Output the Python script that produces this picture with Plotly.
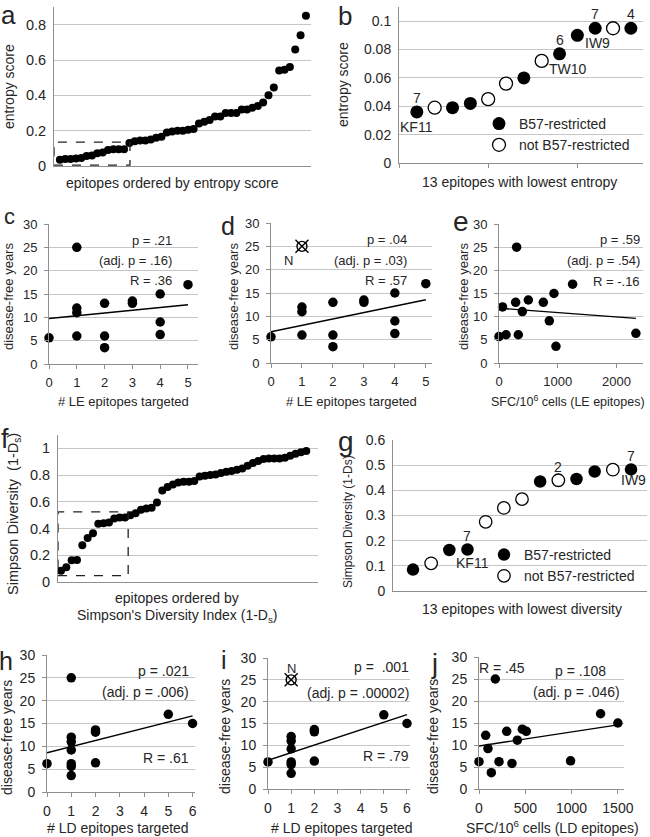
import numpy as np
import plotly.graph_objects as go

W, H = 650, 837
FONT = "Liberation Sans, Arial, sans-serif"
TXT = "#262626"
GRID = "#c6c6c6"
AXIS = "#8f8f8f"

# ---------------- data ----------------
# (a) entropy score of all epitopes, ordered
entropy_scores = [0.036, 0.039, 0.039, 0.042, 0.045, 0.056, 0.060, 0.072, 0.077, 0.090, 0.095, 0.095, 0.095,
                  0.13, 0.14, 0.145, 0.145, 0.15, 0.16, 0.165, 0.19, 0.195, 0.2, 0.2, 0.205, 0.21,
                  0.24, 0.25, 0.26, 0.28, 0.28, 0.3, 0.3, 0.3, 0.32, 0.32, 0.33, 0.34, 0.36,
                  0.4, 0.445, 0.54, 0.545, 0.56, 0.66, 0.74, 0.85]
# (b) 13 lowest-entropy epitopes: B57-restricted flags and labels
n_low = 13
entropy_b57 = [1, 0, 1, 1, 0, 0, 1, 0, 1, 1, 1, 0, 1]
entropy_count_labels = {1: "7", 9: "6", 11: "7", 13: "4"}
entropy_name_labels = {1: "KF11", 9: "TW10", 11: "IW9"}

# (f) Simpson diversity of all epitopes, ordered
diversity_scores = [0.085, 0.11, 0.163, 0.165, 0.275, 0.33, 0.365, 0.435, 0.44, 0.445, 0.475, 0.482, 0.483,
                    0.50, 0.515, 0.54, 0.55, 0.555, 0.595,
                    0.685, 0.71, 0.73, 0.745, 0.75, 0.75, 0.755, 0.79, 0.795, 0.8, 0.805, 0.815,
                    0.825, 0.83, 0.84, 0.85, 0.87, 0.89, 0.905, 0.92, 0.925, 0.925, 0.925, 0.93,
                    0.945, 0.96, 0.97, 0.98]
diversity_b57 = [1, 0, 1, 1, 0, 0, 0, 1, 0, 1, 1, 0, 1]
diversity_count_labels = {4: "7", 9: "2", 13: "7"}
diversity_name_labels = {4: "KF11", 13: "IW9"}

# (c,d) LE epitopes targeted vs disease-free years; outlier N excluded in (d)
le_targeted = [0, 1, 1, 1, 1, 2, 2, 2, 3, 3, 4, 4, 4, 5]
le_dfy = [5.6, 25, 12, 11, 6, 13, 6, 3.5, 13.5, 13, 15, 9, 6.3, 17]
le_outlier = 1  # index of subject "N"

# (e) SFC/10^6 cells (LE epitopes)
le_sfc = [0, 60, 120, 283, 300, 329, 397, 499, 754, 856, 935, 969, 1252, 2329]
le_sfc_dfy = [5.7, 12.1, 6.1, 13.1, 25, 6.1, 11.1, 13.6, 13.1, 9.1, 15, 3.6, 17, 6.4]

# (h,i) LD epitopes targeted vs disease-free years
ld_targeted = [0, 1, 1, 1, 1, 1, 1, 1, 2, 2, 2, 5, 6]
ld_dfy = [6.2, 25, 12, 11, 9.2, 6.2, 5.6, 3.6, 13.6, 13.1, 6.4, 17, 15]
ld_outlier = 1

# (j) SFC/10^6 cells (LD epitopes)
ld_sfc = [0, 72, 97, 133, 176, 216, 299, 356, 414, 468, 511, 989, 1313, 1500]
ld_sfc_dfy = [6.2, 12.2, 9.2, 3.7, 25, 6.2, 13.1, 5.8, 11.1, 13.6, 13.1, 6.4, 17.1, 15]

# statistics text
stats_c = ["p = .21", "(adj. p = .16)", "R = .36"]
stats_d = ["p = .04", "(adj. p = .03)", "R = .57"]
stats_e = ["p = .59", "(adj. p = .54)", "R = -.16"]
stats_h = ["p = .021", "(adj. p = .006)", "R = .61"]
stats_i = ["p =  .001", "(adj. p = .00002)", "R = .79"]
stats_j = ["R = .45", "p = .108", "(adj. p = .046)"]

# ---------------- layout helpers ----------------
def ax_id(n, a):
    return a if n == 1 else f"{a}{n}"

layout = dict(width=W, height=H, margin=dict(l=0, r=0, t=0, b=0, pad=0, autoexpand=False),
              paper_bgcolor="white", plot_bgcolor="white", template="none",
              font=dict(family=FONT, color=TXT), showlegend=True)
annotations = []
shapes = []
fig = go.Figure()


def add_axes(n, rect, xr, yr, dy, fs, dx=None, xlabels=False, xtickvals=None,
             yticks=False, ystand=4, xstand=2):
    l, r, t, b = rect
    xa = dict(domain=[l / W, r / W], range=xr, anchor=ax_id(n, "y"), showgrid=False,
              zeroline=False, showline=True, linecolor=AXIS, linewidth=1, automargin=False,
              tickfont=dict(size=fs, color=TXT, family=FONT), fixedrange=True,
              showticklabels=xlabels, ticks="", ticklabelstandoff=xstand)
    if dx is not None:
        xa.update(tickmode="linear", tick0=0, dtick=dx, ticks="outside", ticklen=4,
                  tickcolor=AXIS, tickwidth=1)
    if xtickvals is not None:
        xa.update(tickmode="array", tickvals=xtickvals, ticks="outside", ticklen=4,
                  tickcolor=AXIS, tickwidth=1)
    ya = dict(domain=[1 - b / H, 1 - t / H], range=yr, anchor=ax_id(n, "x"), showgrid=True,
              gridcolor=GRID, gridwidth=1, zeroline=False, showline=True, linecolor=AXIS,
              linewidth=1, tickmode="linear", tick0=0, dtick=dy, automargin=False,
              tickfont=dict(size=fs, color=TXT, family=FONT), fixedrange=True,
              ticks="outside" if yticks else "", ticklen=4, tickcolor=AXIS,
              ticklabelstandoff=ystand)
    layout["xaxis" if n == 1 else f"xaxis{n}"] = xa
    layout["yaxis" if n == 1 else f"yaxis{n}"] = ya


def dots(n, x, y, size, filled=True, name=None, legend=None, show=False):
    fig.add_trace(go.Scatter(
        x=x, y=y, mode="markers", xaxis=ax_id(n, "x"), yaxis=ax_id(n, "y"),
        cliponaxis=False, name=name, showlegend=show, legend=legend,
        marker=dict(size=size, color="black" if filled else "white",
                    line=dict(color="black", width=0 if filled else 1.3))))


def fit_line(n, x, y):
    x = np.asarray(x, float)
    y = np.asarray(y, float)
    k, c = np.polyfit(x, y, 1)
    xs = np.array([x.min(), x.max()])
    fig.add_trace(go.Scatter(x=xs, y=k * xs + c, mode="lines", xaxis=ax_id(n, "x"),
                             yaxis=ax_id(n, "y"), showlegend=False, cliponaxis=False,
                             line=dict(color="black", width=1.4)))


def text(s, x, y, size, angle=0, xanchor="center"):
    annotations.append(dict(text=s, x=x / W, y=1 - y / H, xref="paper", yref="paper",
                            showarrow=False, textangle=angle, xanchor=xanchor,
                            yanchor="middle", font=dict(size=size, color=TXT, family=FONT)))


def data_text(n, s, x, y, size, dx=0, dy=0):
    annotations.append(dict(text=s, x=x, y=y, xref=ax_id(n, "x"), yref=ax_id(n, "y"),
                            showarrow=False, xshift=dx, yshift=dy,
                            font=dict(size=size, color=TXT, family=FONT)))


def crossed(n, x, y):
    fig.add_trace(go.Scatter(x=[x], y=[y], mode="markers", xaxis=ax_id(n, "x"),
                             yaxis=ax_id(n, "y"), showlegend=False, cliponaxis=False,
                             marker=dict(symbol="circle-open", size=10, color="black",
                                         line=dict(color="black", width=1.4))))
    fig.add_trace(go.Scatter(x=[x], y=[y], mode="markers", xaxis=ax_id(n, "x"),
                             yaxis=ax_id(n, "y"), showlegend=False, cliponaxis=False,
                             marker=dict(symbol="x-thin-open", size=13, color="black",
                                         line=dict(color="black", width=1.4))))


# ---------------- (a) ----------------
add_axes(1, (54, 311, 7, 166), [-1.1, 46.95], [0, 0.9], 0.2, 14.5)
dots(1, list(range(len(entropy_scores))), entropy_scores, 8)
low = entropy_scores[:n_low]
shapes.append(dict(type="rect", xref="x", yref="y", x0=-1.1, x1=n_low + 0.1,
                   y0=min(low) - 0.031, y1=max(low) + 0.04,
                   line=dict(color="#222", width=1.3, dash="dash")))
text("entropy score", 9, 87, 14, -90)
text("epitopes ordered by entropy score", 173, 183, 14)
text("a", 8, 15, 26)

# ---------------- (b) ----------------
add_axes(2, (399, 643, 7, 163), [0, 13.68], [0, 0.11], 0.02, 14, xtickvals=[0, 5, 10])
xi = list(range(1, n_low + 1))
dots(2, [x for x, f in zip(xi, entropy_b57) if f], [v for v, f in zip(low, entropy_b57) if f],
     13, True, "B57-restricted", "legend", True)
dots(2, [x for x, f in zip(xi, entropy_b57) if not f], [v for v, f in zip(low, entropy_b57) if not f],
     13, False, "not B57-restricted", "legend", True)
for k, s in entropy_count_labels.items():
    data_text(2, s, k, low[k - 1], 14, 0, 14)
for k, s in entropy_name_labels.items():
    data_text(2, s, k, low[k - 1], 14, 8 if s == "TW10" else (2 if s == "IW9" else 0), -15)
text("entropy score", 343, 85, 14, -90)
text("13 epitopes with lowest entropy", 519, 182, 14)
text("b", 345, 16, 26)

# ---------------- (c) ----------------
add_axes(3, (49, 198, 224, 364), [0, 5.36], [0, 30], 5, 13, dx=1, xlabels=True, yticks=True)
dots(3, le_targeted, le_dfy, 9.5)
fit_line(3, le_targeted, le_dfy)
for s, y in zip(stats_c, [240, 260, 280]):
    text(s, 174, y, 13, xanchor="right")
text("disease-free years", 8, 297, 13, -90)
text("# LE epitopes targeted", 123, 401, 13)
text("c", 9, 216, 22)

# ---------------- (d) ----------------
add_axes(4, (271, 432, 223, 363), [0, 5.2], [0, 30], 5, 13, dx=1, xlabels=True, yticks=True)
keep = [i for i in range(len(le_dfy)) if i != le_outlier]
dots(4, [le_targeted[i] for i in keep], [le_dfy[i] for i in keep], 9.5)
fit_line(4, [le_targeted[i] for i in keep], [le_dfy[i] for i in keep])
crossed(4, le_targeted[le_outlier], le_dfy[le_outlier])
data_text(4, "N", le_targeted[le_outlier], le_dfy[le_outlier], 13, -13, -14)
for s, y in zip(stats_d, [239, 260, 280]):
    text(s, 409, y, 13, xanchor="right")
text("disease-free years", 233, 297, 13, -90)
text("# LE epitopes targeted", 351, 401, 13)
text("d", 228, 226, 25)

# ---------------- (e) ----------------
add_axes(5, (499, 643, 224, 363), [0, 2450], [0, 30], 5, 13, dx=1000, xlabels=True, yticks=True)
dots(5, le_sfc, le_sfc_dfy, 9.5)
fit_line(5, le_sfc, le_sfc_dfy)
for s, y in zip(stats_e, [239, 261, 281]):
    text(s, 642, y, 13, xanchor="right")
text("disease-free years", 463, 297, 13, -90)
text("SFC/10<sup>6</sup> cells (LE epitopes)", 568, 401, 12.5)
text("e", 461, 221, 28)

# ---------------- (f) ----------------
add_axes(6, (58, 318, 435, 582), [-0.56, 48.2], [0, 1.1], 0.2, 14.5)
dots(6, list(range(len(diversity_scores))), diversity_scores, 8)
lowd = diversity_scores[:n_low]
shapes.append(dict(type="rect", xref="x6", yref="y6", x0=-0.56, x1=n_low - 0.4,
                   y0=min(lowd) - 0.038, y1=max(lowd) + 0.042,
                   line=dict(color="#222", width=1.3, dash="dash")))
text("Simpson Diversity  (1-D<sub>s</sub>)", 14, 514, 14.5, -90)
text("epitopes ordered by", 177, 598, 14)
text("Simpson's Diversity Index (1-D<sub>s</sub>)", 177, 616, 14)
text("f", 5, 439, 27)

# ---------------- (g) ----------------
add_axes(7, (393, 647, 440, 591), [-0.1, 13.88], [0, 0.6], 0.1, 14)
dots(7, [x for x, f in zip(xi, diversity_b57) if f], [v for v, f in zip(lowd, diversity_b57) if f],
     12.5, True, "B57-restricted", "legend2", True)
dots(7, [x for x, f in zip(xi, diversity_b57) if not f], [v for v, f in zip(lowd, diversity_b57) if not f],
     12.5, False, "not B57-restricted", "legend2", True)
for k, s in diversity_count_labels.items():
    data_text(7, s, k, lowd[k - 1], 14, 0, 13)
for k, s in diversity_name_labels.items():
    data_text(7, s, k, lowd[k - 1], 14, 5 if s == "KF11" else 2, -14 if s == "KF11" else -11)
text("Simpson Diversity (1-Ds)", 348, 522, 12, -90)
text("13 epitopes with lowest diversity", 522, 609, 14)
text("g", 346, 441, 28)

# ---------------- (h) ----------------
add_axes(8, (47, 195, 655, 792), [0, 6.1], [0, 30], 5, 14, dx=1, xlabels=True, yticks=True)
dots(8, ld_targeted, ld_dfy, 9.5)
fit_line(8, ld_targeted, ld_dfy)
for s, y in zip(stats_h, [671, 692, 758]):
    text(s, 191, y, 14, xanchor="right")
text("disease-free years", 7, 738, 14, -90)
text("# LD epitopes targeted", 118, 828, 14)
text("h", 6, 661, 25)

# ---------------- (i) ----------------
add_axes(9, (268, 410, 658, 789), [0, 6.13], [0, 30], 5, 14, dx=1, xlabels=True, yticks=True)
keep = [i for i in range(len(ld_dfy)) if i != ld_outlier]
dots(9, [ld_targeted[i] for i in keep], [ld_dfy[i] for i in keep], 9.5)
fit_line(9, [ld_targeted[i] for i in keep], [ld_dfy[i] for i in keep])
crossed(9, ld_targeted[ld_outlier], ld_dfy[ld_outlier])
data_text(9, "N", ld_targeted[ld_outlier], ld_dfy[ld_outlier], 13, 0, 11)
for s, y in zip(stats_i, [667, 693, 756]):
    text(s, 411, y, 14, xanchor="right")
text("disease-free years", 225, 737, 14, -90)
text("# LD epitopes targeted", 342, 828, 14)
text("i", 224, 660, 25)

# ---------------- (j) ----------------
add_axes(10, (479, 624, 657, 789), [0, 1566], [0, 30], 5, 14, dx=500, xlabels=True, yticks=True)
dots(10, ld_sfc, ld_sfc_dfy, 9.5)
fit_line(10, ld_sfc, ld_sfc_dfy)
text(stats_j[0], 502, 668, 14)
text(stats_j[1], 608, 671, 14, xanchor="right")
text(stats_j[2], 622, 692, 14, xanchor="right")
text("disease-free years", 433, 737, 14, -90)
text("SFC/10<sup>6</sup> cells (LD epitopes)", 552, 827, 14)
text("j", 434, 664, 27)

layout["annotations"] = annotations
layout["shapes"] = shapes
layout["legend"] = dict(x=479 / W, y=1 - 108 / H, xanchor="left", yanchor="top",
                        bgcolor="rgba(0,0,0,0)", font=dict(size=14, color=TXT, family=FONT))
layout["legend2"] = dict(x=484 / W, y=1 - 539 / H, xanchor="left", yanchor="top",
                         bgcolor="rgba(0,0,0,0)", font=dict(size=14, color=TXT, family=FONT))
fig.update_layout(**layout)
fig.write_html("out.html", config={"displayModeBar": False},
               post_script="document.body.style.margin='0px';")
